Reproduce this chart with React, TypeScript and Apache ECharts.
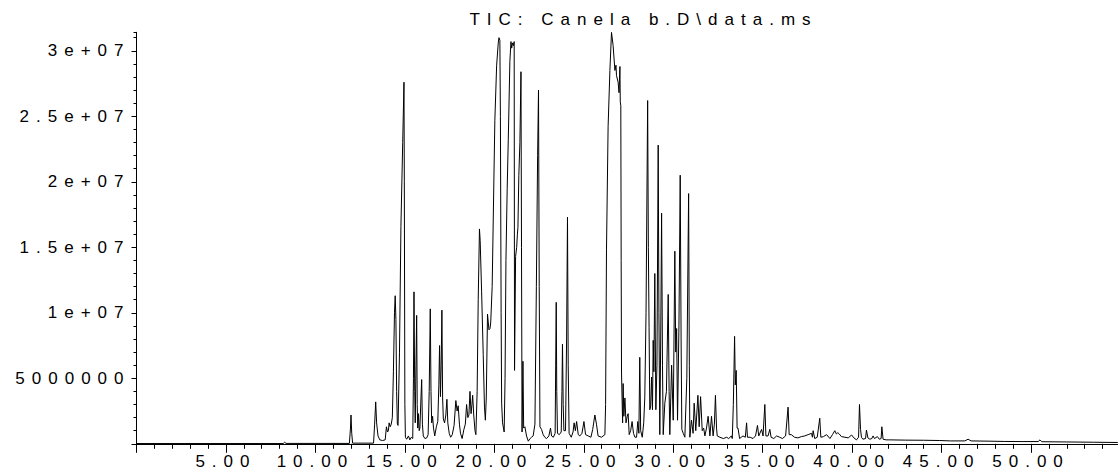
import React, { useEffect, useRef } from 'react';
import * as echarts from 'echarts';

// ---- Text / tick labels ----
const chartTitle = 'TIC: Canela b.D\\data.ms';
const xTickValues = [5, 10, 15, 20, 25, 30, 35, 40, 45, 50];
const xTickLabels = ['5.00', '10.00', '15.00', '20.00', '25.00', '30.00', '35.00', '40.00', '45.00', '50.00'];
const yTickValues = [5e6, 1e7, 1.5e7, 2e7, 2.5e7, 3e7];
const yTickLabels = ['5000000', '1e+07', '1.5e+07', '2e+07', '2.5e+07', '3e+07'];

// ---- Trace: [retention time (min), abundance] ----
const traceEarly: [number, number][] = [
  [0.0, 0.02e6], [5.0, 0.02e6], [8.2, 0.02e6], [8.28, 0.12e6], [8.36, 0.03e6],
  [11.9, 0.03e6], [11.96, 1.2e6], [11.99, 2.2e6], [12.03, 0.8e6], [12.08, 0.05e6],
  [13.25, 0.05e6], [13.31, 1.5e6], [13.37, 3.2e6], [13.42, 1.6e6], [13.5, 0.6e6],
  [13.6, 0.3e6], [13.75, 0.25e6], [13.9, 0.3e6],
];

const traceBlock15: [number, number][] = [
  [13.97, 1.3e6], [14.03, 0.9e6], [14.08, 1.0e6], [14.12, 1.6e6], [14.18, 1.3e6],
  [14.24, 1.5e6], [14.3, 2.0e6], [14.36, 5.5e6], [14.42, 10.0e6], [14.46, 11.3e6],
  [14.5, 9.5e6], [14.54, 4.0e6], [14.58, 1.5e6], [14.62, 1.4e6], [14.7, 7e6],
  [14.78, 16.6e6], [14.88, 23e6], [14.95, 27.6e6], [14.97, 20e6], [15.0, 3e6],
  [15.03, 0.5e6], [15.1, 0.35e6], [15.2, 0.6e6], [15.28, 0.3e6], [15.36, 0.5e6],
  [15.44, 0.4e6], [15.48, 5e6], [15.51, 11.6e6], [15.55, 4e6], [15.58, 1.6e6],
  [15.62, 6e6], [15.66, 9.8e6], [15.69, 3e6], [15.72, 1.2e6], [15.76, 2.3e6],
  [15.8, 1.0e6], [15.84, 1.2e6], [15.9, 3.5e6], [15.94, 4.9e6], [15.98, 1.5e6],
  [16.03, 0.6e6], [16.12, 0.4e6], [16.22, 0.45e6], [16.3, 0.7e6], [16.36, 4e6],
  [16.42, 10.3e6], [16.46, 4e6], [16.5, 1.6e6], [16.55, 2.1e6], [16.6, 1.2e6],
  [16.67, 0.6e6], [16.76, 1.3e6], [16.84, 1.7e6], [16.9, 4.5e6], [16.94, 7.5e6],
  [16.99, 3.6e6], [17.03, 6e6], [17.07, 10.2e6], [17.11, 3.5e6], [17.15, 1.9e6],
  [17.22, 1.6e6], [17.29, 2.2e6], [17.35, 3.4e6], [17.4, 1.6e6], [17.48, 0.8e6],
  [17.56, 0.5e6], [17.65, 0.7e6], [17.75, 1.4e6], [17.85, 3.3e6], [17.92, 2.5e6],
  [17.98, 2.9e6], [18.05, 1.5e6], [18.11, 0.8e6], [18.2, 0.4e6], [18.3, 1.1e6],
  [18.38, 1.5e6], [18.45, 3.0e6], [18.52, 2.0e6], [18.58, 2.2e6], [18.64, 4.0e6],
  [18.7, 2.3e6], [18.75, 3.0e6], [18.79, 3.7e6], [18.85, 2.2e6], [18.92, 1.0e6],
  [18.97, 0.7e6], [19.04, 4e6], [19.1, 11e6], [19.17, 16.4e6], [19.21, 15.5e6],
  [19.29, 11.6e6], [19.38, 6.8e6], [19.45, 2.8e6], [19.5, 1.8e6], [19.55, 3.5e6],
  [19.62, 9.9e6], [19.7, 8.7e6], [19.76, 8.8e6], [19.8, 9.3e6],
];

const traceBlock22: [number, number][] = [
  [19.88, 12e6], [19.95, 18e6], [20.03, 24.7e6], [20.13, 28.9e6], [20.22, 30.6e6],
  [20.26, 31.0e6], [20.31, 30.8e6], [20.34, 25e6], [20.38, 10e6], [20.41, 3.1e6],
  [20.46, 1.6e6], [20.55, 0.9e6], [20.6, 5e6], [20.65, 14e6], [20.72, 19.5e6],
  [20.78, 23.2e6], [20.87, 29.2e6], [20.93, 30.7e6], [20.97, 30.2e6], [21.02, 30.6e6],
  [21.07, 30.4e6], [21.11, 30.7e6], [21.13, 5.6e6], [21.19, 14.3e6], [21.25, 15.0e6],
  [21.29, 16e6], [21.32, 16.5e6], [21.37, 20.5e6], [21.43, 23e6], [21.49, 28.4e6],
  [21.52, 15e6], [21.55, 0.9e6], [21.6, 6.3e6], [21.64, 1.2e6], [21.71, 1.3e6],
  [21.8, 0.6e6], [21.9, 0.2e6], [22.0, 0.4e6], [22.08, 0.5e6], [22.17, 0.6e6],
  [22.27, 1.5e6], [22.35, 12e6], [22.42, 22e6], [22.47, 27.0e6], [22.51, 12e6],
  [22.55, 1.3e6], [22.64, 1.1e6], [22.73, 0.7e6], [22.82, 0.5e6], [22.92, 0.4e6],
  [23.05, 0.6e6], [23.14, 1.2e6], [23.2, 0.6e6], [23.3, 0.5e6], [23.4, 0.8e6],
  [23.43, 6e6], [23.46, 10.8e6], [23.49, 4e6], [23.53, 0.8e6], [23.63, 0.7e6],
  [23.74, 0.9e6], [23.78, 4e6], [23.81, 7.6e6], [23.85, 3e6], [23.89, 1.0e6],
  [23.98, 1.0e6], [24.04, 8e6], [24.09, 17.3e6], [24.13, 6e6], [24.18, 0.8e6],
  [24.3, 0.5e6], [24.4, 0.9e6], [24.46, 1.6e6], [24.53, 1.0e6], [24.6, 1.7e6],
  [24.69, 0.7e6], [24.78, 0.6e6], [24.9, 0.8e6], [25.01, 1.7e6], [25.1, 0.7e6],
  [25.25, 0.6e6], [25.4, 0.5e6], [25.5, 1.1e6], [25.62, 2.2e6], [25.71, 1.5e6],
  [25.8, 0.6e6], [25.99, 0.5e6], [26.18, 0.7e6],
];

const traceBlock29: [number, number][] = [
  [26.22, 3e6], [26.27, 14.8e6], [26.36, 24.2e6], [26.46, 28.5e6], [26.55, 31.4e6],
  [26.64, 30.4e6], [26.74, 28.5e6], [26.8, 28.9e6], [26.83, 28.1e6], [26.92, 27.6e6],
  [26.97, 26.8e6], [27.02, 28.8e6], [27.04, 26.1e6], [27.07, 25.8e6], [27.09, 14e6],
  [27.11, 5.4e6], [27.17, 1.6e6], [27.2, 4.6e6], [27.24, 2.1e6], [27.3, 3.5e6],
  [27.36, 1.6e6], [27.43, 2.1e6], [27.48, 2.3e6], [27.54, 0.7e6], [27.62, 1.0e6],
  [27.7, 1.7e6], [27.78, 0.8e6], [27.86, 0.5e6], [27.95, 0.5e6], [28.02, 1.7e6],
  [28.08, 0.8e6], [28.13, 6.6e6], [28.18, 1.0e6], [28.27, 0.5e6], [28.35, 1.6e6],
  [28.41, 3.5e6], [28.48, 10e6], [28.57, 26.2e6], [28.61, 15e6], [28.65, 8.9e6],
  [28.69, 2.6e6], [28.74, 2.9e6], [28.79, 5.1e6], [28.84, 2.6e6], [28.88, 7.9e6],
  [28.92, 5.5e6], [28.97, 13.0e6], [29.03, 2.6e6], [29.09, 6e6], [29.16, 22.8e6],
  [29.2, 10e6], [29.25, 0.7e6], [29.3, 8e6], [29.35, 17.6e6], [29.4, 6e6],
  [29.44, 0.7e6], [29.53, 3.1e6], [29.62, 4e6], [29.72, 11.4e6], [29.77, 4e6],
  [29.81, 0.7e6], [29.91, 6.0e6], [30.0, 1.8e6], [30.09, 14.7e6], [30.14, 7e6],
  [30.19, 8.8e6], [30.24, 1.8e6], [30.32, 9e6], [30.39, 20.5e6], [30.44, 8e6],
  [30.48, 1.1e6], [30.56, 0.8e6], [30.65, 0.5e6], [30.76, 5e6], [30.86, 19.1e6],
  [30.9, 6e6], [30.93, 0.5e6], [31.02, 1.8e6], [31.11, 0.8e6], [31.17, 3.1e6],
  [31.26, 1.0e6], [31.38, 3.7e6], [31.45, 1.3e6], [31.53, 3.6e6], [31.62, 1.0e6],
  [31.7, 1.2e6], [31.77, 0.6e6], [31.86, 1.2e6], [31.95, 2.1e6], [32.05, 0.6e6],
  [32.14, 2.1e6], [32.23, 0.6e6], [32.3, 1.5e6], [32.36, 3.7e6], [32.42, 1.2e6],
  [32.46, 0.6e6], [32.61, 0.5e6], [32.8, 0.4e6], [32.99, 0.5e6],
];

const traceLate: [number, number][] = [
  [33.1, 0.4e6], [33.25, 0.6e6], [33.3, 0.4e6], [33.36, 3e6], [33.43, 8.2e6],
  [33.47, 4.5e6], [33.52, 5.6e6], [33.57, 1.2e6], [33.62, 1.2e6], [33.71, 0.4e6],
  [33.8, 0.5e6], [33.9, 0.6e6], [34.03, 0.5e6], [34.1, 1.6e6], [34.15, 0.5e6],
  [34.3, 0.5e6], [34.46, 0.4e6], [34.6, 0.6e6], [34.71, 1.4e6], [34.78, 0.6e6],
  [34.94, 1.1e6], [35.02, 0.6e6], [35.12, 3.0e6], [35.18, 0.6e6], [35.3, 0.6e6],
  [35.4, 1.1e6], [35.47, 0.5e6], [35.62, 0.4e6], [35.78, 0.6e6], [35.95, 0.5e6],
  [36.1, 0.4e6], [36.28, 0.6e6], [36.42, 2.8e6], [36.48, 0.7e6], [36.6, 0.7e6],
  [36.78, 0.5e6], [36.97, 0.45e6], [37.16, 0.55e6], [37.35, 0.6e6], [37.54, 0.7e6],
  [37.73, 0.8e6], [37.78, 0.5e6], [37.82, 1.0e6], [37.91, 0.4e6], [38.05, 0.5e6],
  [38.19, 1.95e6], [38.25, 0.5e6], [38.4, 0.55e6], [38.57, 0.7e6], [38.76, 0.4e6],
  [38.9, 0.7e6], [39.03, 1.0e6], [39.12, 0.75e6], [39.2, 0.85e6], [39.28, 0.75e6],
  [39.4, 0.55e6], [39.6, 0.5e6], [39.78, 0.45e6], [39.97, 0.67e6], [40.1, 0.45e6],
  [40.24, 0.3e6], [40.36, 0.5e6], [40.41, 3.0e6], [40.47, 1.1e6], [40.52, 0.5e6],
  [40.6, 0.35e6], [40.75, 0.4e6], [40.8, 1.05e6], [40.88, 0.45e6], [40.99, 0.35e6],
  [41.1, 0.4e6], [41.17, 0.6e6], [41.25, 0.4e6], [41.41, 0.55e6], [41.52, 0.35e6],
  [41.62, 0.4e6], [41.66, 1.3e6], [41.73, 0.35e6], [41.9, 0.3e6],
];

const traceTail: [number, number][] = [
  [42.1, 0.3e6], [43.0, 0.28e6], [44.0, 0.27e6], [44.9, 0.25e6], [45.5, 0.22e6],
  [46.3, 0.22e6], [46.48, 0.35e6], [46.65, 0.22e6], [47.7, 0.2e6], [48.5, 0.18e6],
  [49.5, 0.17e6], [50.4, 0.17e6], [50.5, 0.3e6], [50.6, 0.16e6], [52.0, 0.14e6],
  [53.5, 0.12e6], [54.85, 0.1e6],
];

const FONT = 'Liberation Sans';

function lookup(values: number[], labels: string[], v: number): string {
  for (let i = 0; i < values.length; i++) {
    if (Math.abs(values[i] - v) < Math.abs(values[i]) * 1e-9 + 1e-9) return labels[i];
  }
  return '';
}

export default function App() {
  const ref = useRef<HTMLDivElement>(null);

  useEffect(() => {
    if (!ref.current) return;
    const chart = echarts.init(ref.current, null, { renderer: 'svg' });
    const trace = [
      ...traceEarly, ...traceBlock15, ...traceBlock22,
      ...traceBlock29, ...traceLate, ...traceTail,
    ];
    const yMax = 31.41e6;
    chart.setOption({
      animation: false,
      backgroundColor: '#ffffff',
      textStyle: { fontFamily: FONT, color: '#000' },
      grid: {
        left: 136.5, right: -2.5, top: 32.3, bottom: 28.2,
        containLabel: false, outerBoundsMode: 'none',
      },
      graphic: [
        {
          type: 'text',
          x: 643.5,
          y: 19.5,
          style: {
            text: chartTitle,
            fontFamily: FONT,
            fontSize: 17,
            fill: '#000',
            textAlign: 'center',
            textVerticalAlign: 'middle',
          },
        },
      ],
      xAxis: {
        type: 'value',
        min: 0,
        max: 55,
        interval: 5,
        axisLine: { show: true, onZero: false, lineStyle: { color: '#000', width: 1 } },
        axisTick: { show: true, length: 9, lineStyle: { color: '#000', width: 1 } },
        minorTick: { show: true, splitNumber: 5, length: 5, lineStyle: { color: '#000', width: 1 } },
        splitLine: { show: false },
        minorSplitLine: { show: false },
        axisLabel: {
          show: true,
          margin: 9,
          color: '#000',
          fontFamily: FONT,
          fontSize: 17,
          hideOverlap: false,
          showMinLabel: true,
          showMaxLabel: false,
          formatter: (v: number) => lookup(xTickValues, xTickLabels, v),
        },
      },
      yAxis: [
        {
          type: 'value',
          position: 'left',
          min: 0,
          max: yMax,
          interval: 5e6,
          axisLine: { show: true, onZero: false, lineStyle: { color: '#000', width: 1 } },
          axisTick: { show: true, length: 5, lineStyle: { color: '#000', width: 1 } },
          splitLine: { show: false },
          axisLabel: {
            show: true,
            margin: 6,
            color: '#000',
            fontFamily: FONT,
            fontSize: 17,
            hideOverlap: false,
            showMaxLabel: false,
            formatter: (v: number) => lookup(yTickValues, yTickLabels, v),
          },
        },
        {
          type: 'value',
          position: 'left',
          offset: 0,
          min: 0,
          max: yMax,
          interval: 1e6,
          axisLine: { show: false },
          axisTick: { show: true, length: 3, lineStyle: { color: '#000', width: 1 } },
          splitLine: { show: false },
          axisLabel: { show: false },
        },
      ],
      series: [
        {
          type: 'line',
          data: trace,
          xAxisIndex: 0,
          yAxisIndex: 0,
          showSymbol: false,
          symbol: 'none',
          silent: true,
          lineStyle: { color: '#000', width: 1 },
          itemStyle: { color: '#000' },
          z: 5,
        },
      ],
    });
    return () => chart.dispose();
  }, []);

  return (
    <>
      <style>{`.tic-chart text { letter-spacing: 7px; }`}</style>
      <div
        ref={ref}
        className="tic-chart"
        style={{ position: 'fixed', left: 0, top: 0, width: 1118, height: 472, background: '#fff' }}
      />
    </>
  );
}
